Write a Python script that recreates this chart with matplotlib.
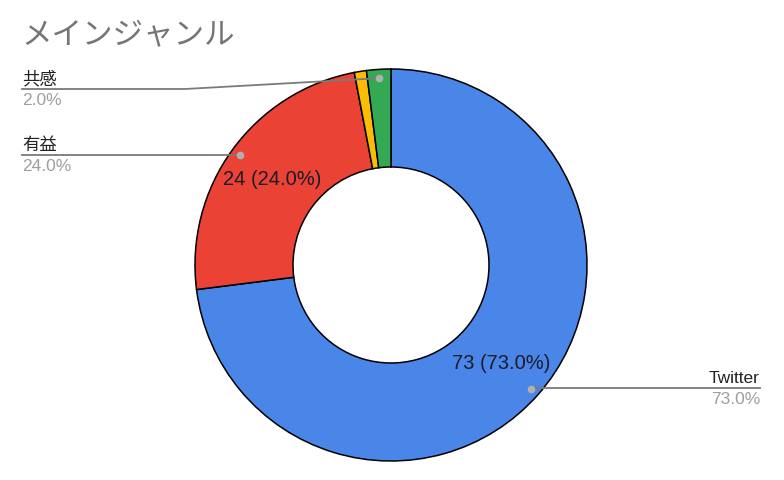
import numpy as np
import matplotlib
matplotlib.use("Agg")
import matplotlib.pyplot as plt

plt.rcParams['font.family'] = ['Liberation Sans', 'Noto Sans CJK JP', 'DejaVu Sans']

title = "メインジャンル"
categories = ["Twitter", "有益", "その他", "共感"]
values = [73, 24, 1, 2]
colors = ["#4a86e8", "#ea4335", "#fbbc04", "#34a853"]
show_label = [True, True, False, True]

W, H = 784, 481
fig = plt.figure(figsize=(W / 100, H / 100), dpi=100)
ax = fig.add_axes([0, 0, 1, 1])

cx, cy, R = 391, H - 266, 196
total = sum(values)

def fmt(p):
    if p < 5:
        return ''
    return f"{round(p * total / 100):.0f} ({p:.1f}%)"

wedges, texts, autotexts = ax.pie(
    values, center=(cx, cy), radius=R, startangle=90, counterclock=False,
    colors=colors, autopct=fmt, pctdistance=0.75,
    wedgeprops=dict(width=R * 0.5, edgecolor='black', linewidth=1.1),
    textprops=dict(fontsize=14.5, color='#1b1b2a'), frame=True)
ax.set_xlim(0, W)
ax.set_ylim(0, H)
ax.set_aspect('equal')
ax.axis('off')

ax.text(22, H - 36, title, fontsize=22, color='#757575', va='center', ha='left',
        family=['Noto Sans CJK JP'])

line_col = '#7a7a7a'
# label layout: (text x, line y in px, side, bend x)
layout = {
    "Twitter": (760, 389, 'right', None),
    "有益": (22, 156, 'left', None),
    "共感": (22, 90, 'left', 185),
}
for w, cat, v, show in zip(wedges, categories, values, show_label):
    if not show:
        continue
    mid = np.deg2rad((w.theta1 + w.theta2) / 2)
    dx, dy = cx + 0.955 * R * np.cos(mid), cy + 0.955 * R * np.sin(mid)
    tx, ly, side, bend = layout[cat]
    ly = H - ly
    if bend is None:
        ax.plot([dx, tx], [ly, ly], color=line_col, lw=1.3, zorder=5)
    else:
        ax.plot([dx, bend, tx], [dy, ly, ly], color=line_col, lw=1.3, zorder=5)
    ax.plot([dx], [dy], 'o', color='#b0b0b0', ms=4.5, zorder=6)
    ha = 'right' if side == 'right' else 'left'
    ax.text(tx, ly + 3, cat, fontsize=12.5, color='#222222', ha=ha, va='bottom')
    ax.text(tx, ly - 3, f"{v / total * 100:.1f}%", fontsize=12.5, color='#9e9e9e', ha=ha, va='top')

fig.savefig("out.png", dpi=100)
